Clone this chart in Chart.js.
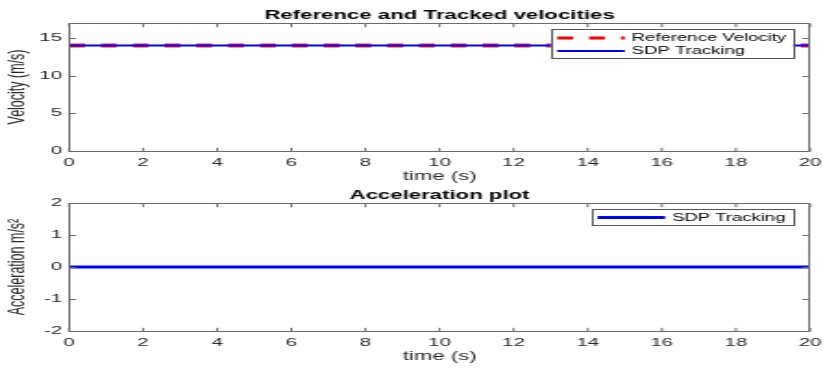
<!DOCTYPE html>
<html>
<head>
<meta charset="utf-8">
<script src="https://cdn.jsdelivr.net/npm/chart.js@4.4.0/dist/chart.umd.min.js"></script>
<style>
  html, body { margin: 0; padding: 0; background: #fff; }
  #wrap { position: relative; width: 823px; height: 368px; overflow: hidden; }
  canvas { position: absolute; left: 0; }
</style>
</head>
<body>
<div id="wrap">
  <canvas id="velCanvas" width="445" height="184" style="top:0px;width:823px;height:184px"></canvas>
  <canvas id="accCanvas" width="445" height="184" style="top:180px;width:823px;height:184px"></canvas>
</div>
<script>
// data
const timeS = [0, 2, 4, 6, 8, 10, 12, 14, 16, 18, 20];
const refVelocity = [14, 14, 14, 14, 14, 14, 14, 14, 14, 14, 14];
const sdpVelocity = [14, 14, 14, 14, 14, 14, 14, 14, 14, 14, 14];
const sdpAccel = [0, 0, 0, 0, 0, 0, 0, 0, 0, 0, 0];

const timeTicks = [0, 2, 4, 6, 8, 10, 12, 14, 16, 18, 20];
const velTicks = [0, 5, 10, 15];
const accTicks = [-2, -1, 0, 1, 2];

// the original figure is stretched sideways, so canvases are drawn narrow and widened by css
const FONT = "'Liberation Sans', Arial, sans-serif";
const AXIS_COLOR = '#6b6b6b';
const TEXT_COLOR = '#262626';

const matlabAxes = {
  id: 'matlabAxes',
  afterDatasetsDraw(chart, args, opts) {
    const { ctx, chartArea: a, scales } = chart;
    const L = Math.round(a.left) + 0.5, R = Math.round(a.right) - 0.5;
    const T = Math.round(a.top) + 0.5, B = Math.round(a.bottom) + 0.5;
    ctx.save();
    ctx.strokeStyle = AXIS_COLOR;
    ctx.lineWidth = 1;
    ctx.strokeRect(L, T, R - L, B - T);

    // inward ticks on all four sides
    const tl = 3.7;
    ctx.beginPath();
    scales.x.ticks.forEach(t => {
      const px = scales.x.getPixelForValue(t.value);
      ctx.moveTo(px, B); ctx.lineTo(px, B - tl);
      ctx.moveTo(px, T); ctx.lineTo(px, T + tl);
    });
    scales.y.ticks.forEach(t => {
      const py = Math.round(scales.y.getPixelForValue(t.value)) + 0.5;
      ctx.moveTo(L, py); ctx.lineTo(L + tl, py);
      ctx.moveTo(R, py); ctx.lineTo(R - tl, py);
    });
    ctx.stroke();

    // title over the axes
    ctx.fillStyle = '#000';
    ctx.font = 'bold 12px ' + FONT;
    ctx.textAlign = 'center';
    ctx.textBaseline = 'alphabetic';
    ctx.fillText(opts.title, (a.left + a.right) / 2, 18.5);

    // legend box
    const lg = opts.legend;
    const bx = a.right - lg.right - lg.width;
    ctx.fillStyle = '#fff';
    ctx.fillRect(bx, lg.top, lg.width, lg.height);
    ctx.strokeStyle = '#555';
    ctx.lineWidth = 1;
    ctx.strokeRect(Math.round(bx) + 0.5, lg.top + 0.5, Math.round(lg.width), lg.height);
    ctx.font = '10px ' + FONT;
    ctx.textAlign = 'left';
    ctx.textBaseline = 'middle';
    lg.items.forEach((it, i) => {
      const y = lg.top + lg.firstRow + i * lg.rowGap;
      ctx.save();
      ctx.strokeStyle = it.color;
      ctx.lineWidth = it.width;
      ctx.setLineDash(it.dash || []);
      ctx.beginPath();
      ctx.moveTo(bx + 3.5, y);
      ctx.lineTo(bx + 40, y);
      ctx.stroke();
      ctx.restore();
      ctx.fillStyle = '#000';
      ctx.fillText(it.label, bx + 43.8, y + 0.5);
    });
    ctx.restore();
  }
};

function axesOptions(yMin, yMax, yTicks, yTitle, title, legend) {
  return {
    responsive: false,
    animation: false,
    layout: { padding: { top: 23, right: 7, left: 0, bottom: 0 } },
    elements: { point: { radius: 0 } },
    plugins: {
      legend: { display: false },
      tooltip: { enabled: false },
      matlabAxes: { title: title, legend: legend }
    },
    scales: {
      x: {
        type: 'linear', min: 0, max: 20,
        afterBuildTicks: s => { s.ticks = timeTicks.map(v => ({ value: v })); },
        afterFit: s => { s.height = 33; s.paddingLeft = 0; s.paddingRight = 0; },
        grid: { display: false, drawTicks: false },
        border: { display: false },
        ticks: { padding: 5, maxRotation: 0, autoSkip: false, color: TEXT_COLOR, font: { family: FONT, size: 11 } },
        title: { display: true, text: 'time (s)', color: TEXT_COLOR, font: { family: FONT, size: 12 }, padding: { top: 0, bottom: 0.5 } }
      },
      y: {
        type: 'linear', min: yMin, max: yMax,
        afterBuildTicks: s => { s.ticks = yTicks.map(v => ({ value: v })); },
        afterFit: s => { s.width = 69 * 445 / 823; s.paddingTop = 0; s.paddingBottom = 0; },
        grid: { display: false, drawTicks: false },
        border: { display: false },
        ticks: { padding: 3.8, autoSkip: false, color: TEXT_COLOR, font: { family: FONT, size: 11 } },
        title: { display: true, text: yTitle, color: TEXT_COLOR, font: { family: FONT, size: 12.5 }, padding: { top: 2.5, bottom: 0 } }
      }
    }
  };
}

new Chart(document.getElementById('velCanvas'), {
  type: 'line',
  data: {
    labels: timeS,
    datasets: [
      {
        label: 'Reference Velocity',
        data: timeS.map((t, i) => ({ x: t, y: refVelocity[i] })),
        borderColor: '#ff1a1a', borderWidth: 4, borderDash: [8.6, 8.6], order: 2
      },
      {
        label: 'SDP Tracking',
        data: timeS.map((t, i) => ({ x: t, y: sdpVelocity[i] })),
        borderColor: '#0000ff', borderWidth: 2, order: 1
      }
    ]
  },
  options: axesOptions(0, 17, velTicks, 'Velocity (m/s)', 'Reference and Tracked velocities', {
    right: 9.2, width: 131, top: 29, height: 29, firstRow: 9, rowGap: 13,
    items: [
      { label: 'Reference Velocity', color: '#ff0000', width: 3, dash: [8.6, 8.6] },
      { label: 'SDP Tracking', color: '#0000ff', width: 2 }
    ]
  }),
  plugins: [matlabAxes]
});

new Chart(document.getElementById('accCanvas'), {
  type: 'line',
  data: {
    labels: timeS,
    datasets: [
      {
        label: 'SDP Tracking',
        data: timeS.map((t, i) => ({ x: t, y: sdpAccel[i] })),
        borderColor: '#0000ff', borderWidth: 3
      }
    ]
  },
  options: axesOptions(-2, 2, accTicks, 'Acceleration m/s²', 'Acceleration plot', {
    right: 9.8, width: 108.6, top: 29, height: 16, firstRow: 8.5, rowGap: 13,
    items: [
      { label: 'SDP Tracking', color: '#0000ff', width: 3 }
    ]
  }),
  plugins: [matlabAxes]
});
</script>
</body>
</html>
